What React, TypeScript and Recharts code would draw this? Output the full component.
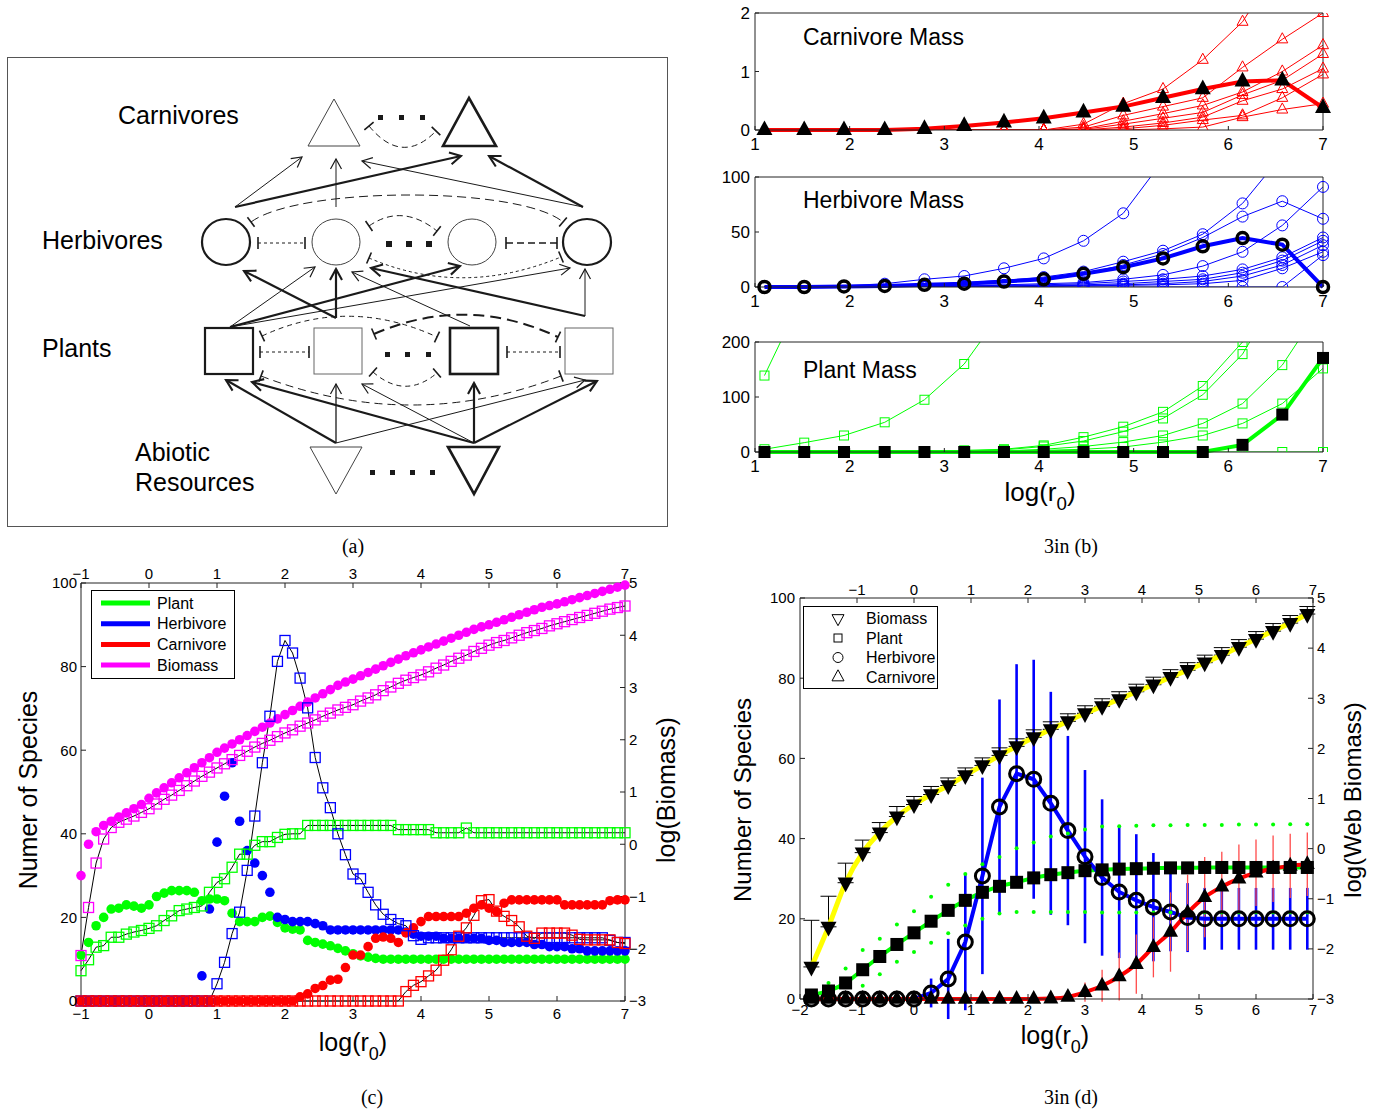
import React from "react";
import { ComposedChart, Line, XAxis, YAxis, ErrorBar } from "recharts";

const SANS = "'Liberation Sans', Arial, Helvetica, sans-serif";
const SERIF = "'Liberation Serif', 'Times New Roman', serif";
const AX = "#222";
const RED = "#ff0000";
const BLUE = "#0000ff";
const GREEN = "#00ff00";
const MAGENTA = "#ff00ff";
const YELLOW = "#ffff00";

// ---------- panel (b): mass of each run vs log(r0)
const xB = [1.1, 1.52, 1.94, 2.37, 2.79, 3.21, 3.63, 4.05, 4.47, 4.89, 5.31, 5.73, 6.15, 6.57, 7.0];
const xBTicks = [1, 2, 3, 4, 5, 6, 7];

const carnRun1 = [0, 0, 0, 0, 0, 0, 0, 0, 0.1, 0.45, 0.7, 1.2, 1.85, 2.9, 4.5];
const carnRun2 = [0, 0, 0, 0, 0, 0, 0, 0, 0.05, 0.25, 0.4, 0.55, 1.07, 1.55, 2.0];
const carnRun3 = [0, 0, 0, 0, 0, 0, 0, 0, 0.02, 0.15, 0.28, 0.42, 0.65, 1.0, 1.45];
const carnRun4 = [0, 0, 0, 0, 0, 0, 0, 0, 0.01, 0.1, 0.2, 0.3, 0.6, 0.85, 1.3];
const carnRun5 = [0, 0, 0, 0, 0, 0, 0, 0, 0, 0.05, 0.12, 0.22, 0.5, 0.7, 1.05];
const carnRun6 = [0, 0, 0, 0, 0, 0, 0, 0, 0, 0.02, 0.08, 0.17, 0.25, 0.55, 0.95];
const carnRun7 = [0, 0, 0, 0, 0, 0, 0, 0, 0, 0, 0.02, 0.05, 0.22, 0.35, 0.45];
const carnMean = [0, 0, 0, 0, 0.02, 0.07, 0.13, 0.2, 0.3, 0.4, 0.55, 0.7, 0.83, 0.85, 0.38];

const herbRun1 = [0, 0.5, 1, 3, 7, 10, 17, 26, 42, 67, 115, 180, 260, 350, 450];
const herbRun2 = [0, 0, 0.5, 1, 2, 4, 6, 9, 14, 23, 33, 48, 76, 120, 170];
const herbRun3 = [0, 0, 0.5, 1, 1.5, 3, 5, 8, 12, 20, 30, 45, 64, 78, 62];
const herbRun4 = [0, 0, 0, 0.5, 1, 1.5, 2, 3, 4, 7, 11, 19, 32, 56, 91];
const herbRun5 = [0, 0, 0, 0, 0.5, 1, 1.5, 2, 3, 5, 7, 10, 16, 27, 45];
const herbRun6 = [0, 0, 0, 0, 0, 0.5, 1, 1.5, 2, 3, 5, 7, 13, 24, 42];
const herbRun7 = [0, 0, 0, 0, 0, 0, 0.5, 1, 1.5, 2, 3, 5, 10, 20, 38];
const herbRun8 = [0, 0, 0, 0, 0, 0, 0, 0.5, 1, 1.5, 2, 3, 6, 17, 32];
const herbRun9 = [0, 0, 0, 0, 0, 0, 0, 0, 0, 0, 0, 0, 0, 0, 29];
const herbMean = [0, 0, 0.5, 1, 2, 3, 5, 7, 12, 18, 26, 37, 44.5, 38.5, 0];

const plantRun1 = [139, 290, 560, 1000, 1800, 3000, 4800, 7000, 9500, 12000, 15000, 18000, 21000, 24000, 27000];
const plantRun2 = [5, 17, 30, 54, 95, 160, 260, 420, 650, 1000, 1500, 2200, 3200, 4500, 6000];
const plantRun3 = [0, 0, 0, 0, 1, 3, 5, 12, 27, 46, 73, 120, 200, 330, 540];
const plantRun4 = [0, 0, 0, 0, 1, 2, 4, 10, 20, 37, 61, 104, 178, 300, 490];
const plantRun5 = [0, 0, 0, 0, 0, 1, 2, 5, 10, 18, 30, 52, 88, 158, 270];
const plantRun6 = [0, 0, 0, 0, 0, 0, 1, 3, 5, 9, 18, 30, 52, 88, 152];
const plantRun7 = [0, 0, 0, 0, 0, 0, 0, 0, 0, 0, 0, 0, 0, 0, 0];
const plantMean = [0, 0, 0, 0, 0, 0, 0, 0, 0, 0, 0, 0, 13, 68, 171];

// ---------- panel (c): species counts (circles, left) and log biomass (squares, right)
const xC = [
  -1, -0.889, -0.778, -0.667, -0.556, -0.444, -0.333, -0.222, -0.111,
  0, 0.111, 0.222, 0.333, 0.444, 0.556, 0.667, 0.778, 0.889,
  1, 1.111, 1.222, 1.333, 1.444, 1.556, 1.667, 1.778, 1.889,
  2, 2.111, 2.222, 2.333, 2.444, 2.556, 2.667, 2.778, 2.889,
  3, 3.111, 3.222, 3.333, 3.444, 3.556, 3.667, 3.778, 3.889,
  4, 4.111, 4.222, 4.333, 4.444, 4.556, 4.667, 4.778, 4.889,
  5, 5.111, 5.222, 5.333, 5.444, 5.556, 5.667, 5.778, 5.889,
  6, 6.111, 6.222, 6.333, 6.444, 6.556, 6.667, 6.778, 6.889,
  7,
];
const xCTicks = [-1, 0, 1, 2, 3, 4, 5, 6, 7];

const plantCount = [
  11, 14, 18, 20, 22, 22.2, 23, 22.7, 22.2,
  23, 25, 25.8, 26.4, 26.4, 26.4, 26, 24, 24.4,
  24.4, 24, 21, 19, 19, 19, 20, 20.3, 18.8,
  17.5, 17.2, 17, 14.5, 14, 13.6, 13.2, 12.6, 12,
  11.3, 10.8, 10.5, 10.2, 10, 10, 10, 10, 10,
  10, 10, 10, 10, 10, 10, 10, 10, 10,
  10, 10, 10, 10, 10, 10, 10, 10, 10,
  10, 10, 10, 10, 10, 10, 10, 10, 10,
  10,
];
const herbCount = [
  0, 0, 0, 0, 0, 0, 0, 0, 0,
  0, 0, 0, 0, 0, 0, 0, 6, 22,
  38, 49, 57, 43, 36, 33, 30, 26, 20,
  19.5, 19, 19, 19, 18.5, 18, 17, 17, 17,
  17, 17, 17, 17, 17, 17, 17, 16.5, 16,
  15.5, 15.5, 15.5, 15, 15, 15, 15, 15, 15,
  14.5, 14.5, 14, 14, 14, 14, 13.5, 13.5, 13,
  13, 13, 12.5, 12.5, 12, 12, 12, 12, 12,
  12,
];
const carnCount = [
  0, 0, 0, 0, 0, 0, 0, 0, 0,
  0, 0, 0, 0, 0, 0, 0, 0, 0,
  0, 0, 0, 0, 0, 0, 0, 0, 0,
  0, 0, 1, 1.7, 3, 3.7, 5, 5.2, 8,
  11, 11, 13, 15, 15.3, 15, 14, 16.3, 17.5,
  19, 20.2, 20.2, 20.2, 20.2, 20.2, 21, 22.2, 23,
  22.2, 21.4, 23.4, 24.2, 24.2, 24.2, 24.2, 24.2, 24.2,
  24.2, 23, 23, 23, 23, 23, 23, 24, 24.2,
  24.2,
];
const bioCount = [
  30, 37.5, 40.5, 42, 43, 44, 45, 46, 47,
  48.5, 49.8, 51, 52.2, 53.4, 54.6, 55.8, 57, 58.2,
  59.5, 60.5, 61.5, 62.5, 63.5, 64.5, 65.5, 66.5, 67.5,
  68.5, 69.5, 70.5, 71.5, 72.5, 73.5, 74.5, 75.5, 76.3,
  77, 77.8, 78.6, 79.4, 80.2, 81, 81.8, 82.6, 83.3,
  84, 84.7, 85.4, 86.1, 86.8, 87.5, 88.2, 88.9, 89.5,
  90, 90.6, 91.2, 91.8, 92.4, 93, 93.6, 94.2, 94.6,
  95, 95.5, 96, 96.5, 97, 97.5, 98, 98.5, 99,
  99.5,
];
const plantLogMass = [
  -2.42, -2.21, -1.97, -1.94, -1.78, -1.78, -1.72, -1.68, -1.65,
  -1.61, -1.56, -1.46, -1.37, -1.27, -1.24, -1.21, -1.18, -0.92,
  -0.73, -0.66, -0.44, -0.19, -0.19, -0.02, 0.05, 0.05, 0.13,
  0.19, 0.2, 0.2, 0.36, 0.36, 0.36, 0.36, 0.36, 0.36,
  0.36, 0.36, 0.36, 0.36, 0.36, 0.36, 0.28, 0.28, 0.28,
  0.28, 0.28, 0.22, 0.22, 0.22, 0.22, 0.31, 0.22, 0.22,
  0.22, 0.22, 0.22, 0.22, 0.22, 0.22, 0.22, 0.22, 0.22,
  0.22, 0.22, 0.22, 0.22, 0.22, 0.22, 0.22, 0.22, 0.22,
  0.22,
];
const herbLogMass = [
  -3, -3, -3, -3, -3, -3, -3, -3, -3,
  -3, -3, -3, -3, -3, -3, -3, -3, -3,
  -2.67, -2.26, -1.71, -1.3, -0.5, 0.54, 1.56, 2.45, 3.5,
  3.9, 3.66, 3.18, 2.61, 1.66, 1.08, 0.7, 0.2, -0.2,
  -0.57, -0.66, -0.92, -1.16, -1.34, -1.44, -1.52, -1.56, -1.75,
  -1.82, -1.79, -1.79, -1.79, -1.79, -1.79, -1.79, -1.79, -1.79,
  -1.79, -1.79, -1.79, -1.79, -1.79, -1.79, -1.79, -1.79, -1.79,
  -1.79, -1.79, -1.79, -1.79, -1.79, -1.79, -1.79, -1.84, -1.88,
  -1.88,
];
const carnLogMass = [
  -3, -3, -3, -3, -3, -3, -3, -3, -3,
  -3, -3, -3, -3, -3, -3, -3, -3, -3,
  -3, -3, -3, -3, -3, -3, -3, -3, -3,
  -3, -3, -3, -3, -3, -3, -3, -3, -3,
  -3, -3, -3, -3, -3, -3, -3, -2.82, -2.7,
  -2.63, -2.52, -2.41, -2.22, -2.02, -1.76, -1.6, -1.36, -1.08,
  -1.06, -1.28, -1.38, -1.46, -1.58, -1.76, -1.8, -1.7, -1.7,
  -1.7, -1.7, -1.74, -1.82, -1.83, -1.83, -1.83, -1.83, -1.88,
  -1.9,
];
const bioLogMass = [
  -2.13, -1.21, -0.36, 0.1, 0.32, 0.42, 0.48, 0.54, 0.61,
  0.68, 0.77, 0.86, 0.94, 1.03, 1.12, 1.21, 1.3, 1.38,
  1.46, 1.54, 1.62, 1.7, 1.78, 1.86, 1.93, 1.99, 2.06,
  2.13, 2.19, 2.26, 2.32, 2.38, 2.45, 2.51, 2.57, 2.62,
  2.67, 2.74, 2.8, 2.86, 2.94, 3.01, 3.08, 3.14, 3.19,
  3.24, 3.3, 3.37, 3.43, 3.5, 3.56, 3.62, 3.69, 3.75,
  3.81, 3.86, 3.9, 3.95, 4.0, 4.05, 4.09, 4.13, 4.18,
  4.22, 4.26, 4.3, 4.34, 4.38, 4.42, 4.46, 4.5, 4.53,
  4.56,
];

// ---------- panel (d): ensemble averages with error bars
const xD = [-1.8, -1.5, -1.2, -0.9, -0.6, -0.3, 0, 0.3, 0.6, 0.9, 1.2, 1.5, 1.8, 2.1, 2.4, 2.7, 3, 3.3, 3.6, 3.9, 4.2, 4.5, 4.8, 5.1, 5.4, 5.7, 6, 6.3, 6.6, 6.9];
const xDTicksBottom = [-2, -1, 0, 1, 2, 3, 4, 5, 6, 7];
const xDTicksTop = [-1, 0, 1, 2, 3, 4, 5, 6, 7];

const webBio = [-2.36, -1.56, -0.68, -0.08, 0.32, 0.64, 0.88, 1.08, 1.26, 1.46, 1.66, 1.86, 2.04, 2.22, 2.38, 2.54, 2.7, 2.84, 2.98, 3.13, 3.27, 3.42, 3.56, 3.71, 3.86, 4.02, 4.18, 4.34, 4.5, 4.68];
const webBioErr = [0.93, 0.61, 0.39, 0.25, 0.2, 0.2, 0.16, 0.16, 0.15, 0.15, 0.15, 0.15, 0.15, 0.15, 0.15, 0.15, 0.15, 0.15, 0.15, 0.15, 0.15, 0.15, 0.15, 0.15, 0.15, 0.15, 0.15, 0.15, 0.15, 0.15];
const plantSp = [1, 2, 4, 7.3, 10.6, 13.6, 16.5, 19.4, 22.1, 24.6, 26.6, 28.1, 29.1, 30.2, 31, 31.5, 32, 32.2, 32.4, 32.5, 32.6, 32.7, 32.7, 32.8, 32.8, 32.8, 32.8, 32.8, 32.8, 32.8];
const plantSpHi = [2, 4, 7.6, 12.2, 15, 18.6, 21.9, 25.5, 28.5, 31.2, 33.6, 35.4, 37.6, 39, 40.5, 41.3, 42.3, 43, 43.1, 43.2, 43.3, 43.3, 43.4, 43.4, 43.4, 43.5, 43.5, 43.5, 43.6, 43.6];
const plantSpLo = [0, 0.2, 1.2, 3.3, 6.2, 9.3, 11.7, 14, 16.4, 18.3, 20, 21.3, 21.7, 21.7, 21.7, 21.7, 21.7, 21.6, 21.6, 21.6, 21.6, 21.6, 21.6, 21.6, 21.6, 21.6, 21.6, 21.6, 21.6, 21.6];
const herbSp = [0, 0, 0, 0, 0, 0, 0, 1.5, 5, 14.2, 30.7, 47.9, 56.2, 54.8, 48.8, 42, 35.5, 30.3, 26.7, 24.6, 22.9, 21.7, 20.3, 20, 20, 20, 20, 20, 20, 20];
const herbSpErr = [0, 0, 0, 0, 0, 0, 0, 3.6, 10, 17, 24.5, 26.8, 27.3, 29.8, 27.8, 23.6, 21.6, 19.5, 16.5, 16.5, 13.5, 9.8, 8.6, 7.7, 7.7, 7.7, 7.7, 7.7, 7.7, 7.7];
const carnSp = [0, 0, 0, 0, 0, 0, 0, 0, 0, 0, 0, 0, 0, 0, 0.1, 0.5, 1.7, 3.3, 5.6, 8.7, 12.9, 16.7, 21.5, 25.4, 28, 30, 31.5, 32.5, 33.2, 33.6];
const carnSpErr = [0, 0, 0, 0, 0, 0, 0, 0, 0, 0, 0, 0, 0, 0, 0, 0.5, 2.4, 4, 6, 7.4, 7.5, 9.9, 9.5, 10, 8.7, 8.5, 8.3, 8.3, 8, 7.9];

const speciesTicks = [0, 20, 40, 60, 80, 100];
const logTicks = [-3, -2, -1, 0, 1, 2, 3, 4, 5];
const legendC = [
  { name: "Plant", color: GREEN },
  { name: "Herbivore", color: BLUE },
  { name: "Carnivore", color: RED },
  { name: "Biomass", color: MAGENTA },
];
const legendD = ["Biomass", "Plant", "Herbivore", "Carnivore"];

// ---------- helpers
const minus = (v: number) => String(v).replace("-", "\u2212");
const tickFont = (size: number) => ({ fontSize: size, fill: "#000", fontFamily: SANS });
const axisLine = { stroke: AX, strokeWidth: 1 };
const tickLine = { stroke: AX, strokeWidth: 1 };
const triUp = (x: number, y: number, s: number) =>
  `${x},${y - s * 0.6} ${x - s / 2},${y + s * 0.32} ${x + s / 2},${y + s * 0.32}`;
const triDown = (x: number, y: number, s: number) =>
  `${x},${y + s * 0.6} ${x - s / 2},${y - s * 0.32} ${x + s / 2},${y - s * 0.32}`;

type Draw = (x: number, y: number) => React.ReactNode;
const dots = (draw: Draw) => (p: any) => (
  <g key={`d${p.index}`}>{p.cx == null || p.cy == null || p.value == null ? null : draw(p.cx, p.cy)}</g>
);

// ---------- panel (b)
function MassPanel(props: {
  top: number;
  height: number;
  plotTop: number;
  plotBottom: number;
  runs: number[][];
  mean: number[];
  color: string;
  kind: "tri" | "circ" | "sq";
  yMax: number;
  yTicks: number[];
}) {
  const { top, height, plotTop, plotBottom, runs, mean, color, kind, yMax, yTicks } = props;
  const data = xB.map((x, i) => {
    const row: Record<string, number> = { x, mean: mean[i] };
    runs.forEach((run, j) => {
      row[`run${j}`] = run[i];
    });
    return row;
  });
  const open: Draw =
    kind === "tri"
      ? (x, y) => <polygon points={triUp(x, y, 11)} fill="none" stroke={color} strokeWidth={1} />
      : kind === "circ"
      ? (x, y) => <circle cx={x} cy={y} r={5.5} fill="none" stroke={color} strokeWidth={1} />
      : (x, y) => <rect x={x - 4.5} y={y - 4.5} width={9} height={9} fill="none" stroke={color} strokeWidth={1} />;
  const solid: Draw =
    kind === "tri"
      ? (x, y) => <polygon points={triUp(x, y, 16)} fill="#000" />
      : kind === "circ"
      ? (x, y) => <circle cx={x} cy={y} r={5.5} fill="none" stroke="#000" strokeWidth={3.5} />
      : (x, y) => <rect x={x - 6} y={y - 6} width={12} height={12} fill="#000" />;
  return (
    <div style={{ position: "absolute", left: 700, top, width: 680, height }}>
      <ComposedChart
        width={680}
        height={height}
        data={data}
        margin={{ top: plotTop - top - 1, right: 56, bottom: top + height - plotBottom - 25, left: 15 }}
      >
        <XAxis xAxisId="b" dataKey="x" type="number" domain={[1, 7]} ticks={xBTicks} height={25}
          axisLine={axisLine} tickLine={tickLine} tickSize={-4} tickMargin={12} tick={tickFont(17)} />
        <XAxis xAxisId="t" orientation="top" dataKey="x" type="number" domain={[1, 7]} ticks={xBTicks} height={1}
          axisLine={axisLine} tickLine={tickLine} tickSize={-4} tick={false} />
        <YAxis yAxisId="a" type="number" domain={[0, yMax]} ticks={yTicks} allowDataOverflow width={40}
          axisLine={axisLine} tickLine={tickLine} tickSize={-4} tickMargin={9} tick={tickFont(17)} />
        <YAxis yAxisId="zf" type="number" domain={[0, yMax]} width={0} hide />
        <YAxis yAxisId="r" orientation="right" type="number" domain={[0, yMax]} ticks={yTicks} width={1}
          axisLine={axisLine} tickLine={tickLine} tickSize={-4} tick={false} />
        {runs.map((_, j) => (
          <Line key={j} xAxisId="b" yAxisId="a" dataKey={`run${j}`} stroke={color} strokeWidth={1}
            dot={dots(open)} activeDot={false} isAnimationActive={false} />
        ))}
        <Line xAxisId="b" yAxisId="zf" dataKey="mean" stroke="none" dot={dots(solid)} activeDot={false}
          isAnimationActive={false} />
        <Line xAxisId="b" yAxisId="zf" dataKey="mean" stroke={color} strokeWidth={4} dot={false} activeDot={false}
          isAnimationActive={false} />
      </ComposedChart>
    </div>
  );
}

// ---------- panel (c)
function SpeciesChart() {
  const data = xC.map((x, i) => ({
    x,
    pc: plantCount[i],
    hc: herbCount[i],
    cc: carnCount[i],
    bc: bioCount[i],
    pb: plantLogMass[i],
    hb: herbLogMass[i],
    cb: carnLogMass[i],
    bb: bioLogMass[i],
  }));
  const disc = (fill: string): Draw => (x, y) => <circle cx={x} cy={y} r={4.8} fill={fill} />;
  const box = (stroke: string): Draw => (x, y) => (
    <rect x={x - 5} y={y - 5} width={10} height={10} fill="none" stroke={stroke} strokeWidth={1.3} />
  );
  const circles: [string, string][] = [["pc", GREEN], ["hc", BLUE], ["cc", RED], ["bc", MAGENTA]];
  const squares: [string, string][] = [["pb", GREEN], ["hb", BLUE], ["cb", RED], ["bb", MAGENTA]];
  return (
    <div style={{ position: "absolute", left: 0, top: 560, width: 700, height: 490 }}>
      <ComposedChart width={700} height={490} data={data} margin={{ top: 1, right: 35, bottom: 24, left: 31 }}>
        <XAxis xAxisId="b" dataKey="x" type="number" domain={[-1, 7]} ticks={xCTicks} height={25}
          axisLine={axisLine} tickLine={tickLine} tickSize={-5} tickMargin={12} tick={tickFont(15)} tickFormatter={minus} />
        <XAxis xAxisId="t" orientation="top" dataKey="x" type="number" domain={[-1, 7]} ticks={xCTicks} height={22}
          axisLine={axisLine} tickLine={tickLine} tickSize={-5} tickMargin={9} tick={tickFont(15)} tickFormatter={minus} />
        <YAxis yAxisId="L" type="number" domain={[0, 100]} ticks={speciesTicks} width={50}
          axisLine={axisLine} tickLine={tickLine} tickSize={-5} tickMargin={9} tick={tickFont(15)} />
        <YAxis yAxisId="R" orientation="right" type="number" domain={[-3, 5]} ticks={logTicks} width={40}
          axisLine={axisLine} tickLine={tickLine} tickSize={-5} tickMargin={9} tick={tickFont(15)} tickFormatter={minus} />
        {circles.map(([k, c]) => (
          <Line key={k} xAxisId="b" yAxisId="L" dataKey={k} stroke="none" dot={dots(disc(c))} activeDot={false}
            isAnimationActive={false} />
        ))}
        {squares.map(([k, c]) => (
          <React.Fragment key={k}>
            <Line xAxisId="b" yAxisId="R" dataKey={k} stroke="none" dot={dots(box(c))} activeDot={false}
              isAnimationActive={false} />
            <Line xAxisId="b" yAxisId="R" dataKey={k} stroke="#000" strokeWidth={1} dot={false} activeDot={false}
              isAnimationActive={false} />
          </React.Fragment>
        ))}
      </ComposedChart>
    </div>
  );
}

// ---------- panel (d)
function AverageChart() {
  const data = xD.map((x, i) => ({
    x,
    bio: webBio[i],
    bioErr: [0, webBioErr[i]],
    plant: plantSp[i],
    pHi: plantSpHi[i],
    pLo: plantSpLo[i],
    herb: herbSp[i],
    herbErr: herbSpErr[i],
    carn: carnSp[i],
    carnErr: carnSpErr[i],
  }));
  const greenDot: Draw = (x, y) => <circle cx={x} cy={y} r={2} fill={GREEN} />;
  return (
    <div style={{ position: "absolute", left: 700, top: 580, width: 680, height: 480 }}>
      <ComposedChart width={680} height={480} data={data} margin={{ top: 0, right: 27, bottom: 36, left: 50 }}>
        <XAxis xAxisId="b" dataKey="x" type="number" domain={[-2, 7]} ticks={xDTicksBottom} height={25}
          axisLine={axisLine} tickLine={tickLine} tickSize={-5} tickMargin={10} tick={tickFont(15)} tickFormatter={minus} />
        <XAxis xAxisId="t" orientation="top" dataKey="x" type="number" domain={[-2, 7]} ticks={xDTicksTop} height={18}
          axisLine={axisLine} tickLine={tickLine} tickSize={-5} tickMargin={8} tick={tickFont(15)} tickFormatter={minus} />
        <YAxis yAxisId="L" type="number" domain={[0, 100]} ticks={speciesTicks} allowDataOverflow width={50}
          axisLine={axisLine} tickLine={tickLine} tickSize={-5} tickMargin={10} tick={tickFont(15)} />
        <YAxis yAxisId="Lf" type="number" domain={[0, 100]} width={0} hide />
        <YAxis yAxisId="R" orientation="right" type="number" domain={[-3, 5]} ticks={logTicks} width={40}
          axisLine={axisLine} tickLine={tickLine} tickSize={-5} tickMargin={9} tick={tickFont(15)} tickFormatter={minus} />

        <Line xAxisId="b" yAxisId="L" dataKey="herb" stroke="none" dot={false} activeDot={false} isAnimationActive={false}>
          <ErrorBar dataKey="herbErr" width={0} strokeWidth={2.6} stroke={BLUE} direction="y" />
        </Line>
        <Line xAxisId="b" yAxisId="L" dataKey="carn" stroke="none" dot={false} activeDot={false} isAnimationActive={false}>
          <ErrorBar dataKey="carnErr" width={0} strokeWidth={1.3} stroke="#ff4a4a" direction="y" />
        </Line>
        <Line xAxisId="b" yAxisId="Lf" dataKey="pHi" stroke="none" dot={dots(greenDot)} activeDot={false}
          isAnimationActive={false} />
        <Line xAxisId="b" yAxisId="Lf" dataKey="pLo" stroke="none" dot={dots(greenDot)} activeDot={false}
          isAnimationActive={false} />
        <Line xAxisId="b" yAxisId="R" dataKey="bio" stroke="none" dot={false} activeDot={false} isAnimationActive={false}>
          <ErrorBar dataKey="bioErr" width={8} strokeWidth={1} stroke="#000" direction="y" />
        </Line>

        <Line xAxisId="b" yAxisId="Lf" dataKey="plant" stroke="none" activeDot={false} isAnimationActive={false}
          dot={dots((x, y) => <rect x={x - 6.5} y={y - 6.5} width={13} height={13} fill="#000" />)} />
        <Line xAxisId="b" yAxisId="Lf" dataKey="herb" stroke="none" activeDot={false} isAnimationActive={false}
          dot={dots((x, y) => <circle cx={x} cy={y} r={7} fill="none" stroke="#000" strokeWidth={3} />)} />
        <Line xAxisId="b" yAxisId="Lf" dataKey="carn" stroke="none" activeDot={false} isAnimationActive={false}
          dot={dots((x, y) => <polygon points={triUp(x, y, 15)} fill="#000" />)} />
        <Line xAxisId="b" yAxisId="R" dataKey="bio" stroke="none" activeDot={false} isAnimationActive={false}
          dot={dots((x, y) => <polygon points={triDown(x, y, 16)} fill="#000" />)} />

        <Line xAxisId="b" yAxisId="Lf" type="monotone" dataKey="plant" stroke={GREEN} strokeWidth={4} dot={false}
          activeDot={false} isAnimationActive={false} />
        <Line xAxisId="b" yAxisId="Lf" dataKey="herb" stroke={BLUE} strokeWidth={4} dot={false} activeDot={false}
          isAnimationActive={false} />
        <Line xAxisId="b" yAxisId="Lf" type="monotone" dataKey="carn" stroke={RED} strokeWidth={4} dot={false}
          activeDot={false} isAnimationActive={false} />
        <Line xAxisId="b" yAxisId="R" type="monotone" dataKey="bio" stroke={YELLOW} strokeWidth={5} dot={false}
          activeDot={false} isAnimationActive={false} />
      </ComposedChart>
    </div>
  );
}

// ---------- panel (a): food web sketch
const webArrows: [number, number, number, number, number][] = [
  [235, 207, 302, 157, 1], [235, 207, 461, 156, 2.2], [336, 207, 336, 159, 1], [583, 207, 362, 161, 1], [583, 207, 489, 156, 2.2],
  [230, 327, 315, 267, 1], [230, 327, 460, 266, 2.2], [336, 318, 244, 271, 2.2], [336, 318, 336, 269, 2.2],
  [470, 326, 352, 272, 1], [585, 316, 371, 268, 2.2], [585, 316, 585, 269, 1], [230, 327, 570, 268, 1],
  [336, 443, 226, 380, 2.2], [336, 443, 336, 384, 1.3], [336, 443, 585, 380, 1], [474, 443, 252, 382, 2.2],
  [474, 443, 362, 384, 1], [474, 443, 474, 383, 2.2], [474, 443, 597, 381, 2.2],
];
const webLinks: [string, string, number][] = [
  ["M369,126 Q402,166 436,131", "6,4", 1],
  ["M251,222 C300,186 520,186 563,222", "9,5", 1],
  ["M369,226 Q402,203 437,231", "6,4", 1],
  ["M369,258 Q462,298 561,257", "3,3", 1],
  ["M258,243 L305,243", "3,3", 1],
  ["M506,243 L557,243", "7,4", 1.3],
  ["M262,336 Q348,296 437,337", "5,4", 1],
  ["M374,334 Q466,294 558,337", "11,6", 2],
  ["M261,376 Q412,434 561,376", "8,5", 1],
  ["M373,372 Q405,400 437,373", "5,4", 1],
  ["M260,352 L309,352", "3,3", 1],
  ["M507,352 L560,352", "3,3", 1],
];

function FoodWeb() {
  const k = "#1a1a1a";
  return (
    <svg width={700} height={560} style={{ position: "absolute", left: 0, top: 0 }} fontFamily={SANS}>
      <defs>
        <marker id="ahThin" viewBox="-12 -7 14 14" markerWidth={14} markerHeight={14} refX={0} refY={0} orient="auto"
          markerUnits="userSpaceOnUse">
          <path d="M-10,-5.5 L0,0 L-10,5.5" fill="none" stroke={k} strokeWidth={1.2} />
        </marker>
        <marker id="ahThick" viewBox="-13 -8 15 16" markerWidth={15} markerHeight={16} refX={0} refY={0} orient="auto"
          markerUnits="userSpaceOnUse">
          <path d="M-11,-6 L0,0 L-11,6" fill="none" stroke={k} strokeWidth={2.1} />
        </marker>
        <marker id="tbar" viewBox="-2 -8 4 16" markerWidth={4} markerHeight={16} refX={0} refY={0} orient="auto"
          markerUnits="userSpaceOnUse">
          <path d="M0,-6 L0,6" stroke={k} strokeWidth={1.6} />
        </marker>
      </defs>
      <rect x={7.5} y={57.5} width={660} height={469} fill="none" stroke="#555" />
      <text x={118} y={124} fontSize={25}>Carnivores</text>
      <text x={42} y={249} fontSize={25}>Herbivores</text>
      <text x={42} y={357} fontSize={25}>Plants</text>
      <text x={135} y={461} fontSize={25}>Abiotic</text>
      <text x={135} y={491} fontSize={25}>Resources</text>

      {webArrows.map(([x1, y1, x2, y2, w], i) => (
        <line key={`a${i}`} x1={x1} y1={y1} x2={x2} y2={y2} stroke={k} strokeWidth={w}
          markerEnd={w > 1.5 ? "url(#ahThick)" : "url(#ahThin)"} />
      ))}
      {webLinks.map(([d, dash, w], i) => (
        <path key={`l${i}`} d={d} fill="none" stroke={k} strokeWidth={w} strokeDasharray={dash}
          markerStart="url(#tbar)" markerEnd="url(#tbar)" />
      ))}

      <polygon points="308,146 360,146 334,99" fill="#fff" stroke="#444" strokeWidth={1} />
      <polygon points="443,146 496,146 469,98" fill="#fff" stroke={k} strokeWidth={2.6} />
      <ellipse cx={226} cy={242} rx={24} ry={23} fill="none" stroke={k} strokeWidth={2.2} />
      <ellipse cx={336} cy={242} rx={24} ry={23} fill="none" stroke="#444" strokeWidth={1} />
      <ellipse cx={472} cy={242} rx={24} ry={23} fill="none" stroke="#444" strokeWidth={1} />
      <ellipse cx={587} cy={242} rx={24} ry={23} fill="none" stroke={k} strokeWidth={2.2} />
      <rect x={205} y={328} width={48} height={46} fill="none" stroke={k} strokeWidth={2.2} />
      <rect x={314} y={328} width={48} height={46} fill="none" stroke="#666" strokeWidth={1} />
      <rect x={450} y={328} width={48} height={46} fill="none" stroke={k} strokeWidth={2.6} />
      <rect x={565} y={328} width={48} height={46} fill="none" stroke="#666" strokeWidth={1} />
      <polygon points="310,447 362,447 336,494" fill="#fff" stroke="#444" strokeWidth={1} />
      <polygon points="448,447 499,447 474,494" fill="#fff" stroke={k} strokeWidth={2.6} />

      {[378, 399, 420].map((x) => <rect key={`c${x}`} x={x} y={115} width={5} height={5} fill={k} />)}
      {[386, 406, 426].map((x) => <rect key={`h${x}`} x={x} y={241} width={6} height={6} fill={k} />)}
      {[385, 405, 426].map((x) => <rect key={`p${x}`} x={x} y={352} width={5} height={5} fill={k} />)}
      {[370, 390, 410, 430].map((x) => <rect key={`r${x}`} x={x} y={470} width={5} height={5} fill={k} />)}
    </svg>
  );
}

// ---------- labels, legends and captions
function LogR({ x, y, size }: { x: number; y: number; size: number }) {
  return (
    <text x={x} y={y} fontSize={size} textAnchor="middle">
      log(r<tspan dy={size * 0.35} fontSize={size * 0.72}>0</tspan>
      <tspan dy={-size * 0.35}>)</tspan>
    </text>
  );
}

function Overlay() {
  return (
    <svg width={1380} height={1110} style={{ position: "absolute", left: 0, top: 0, pointerEvents: "none" }}
      fontFamily={SANS}>
      <text x={803} y={45} fontSize={23}>Carnivore Mass</text>
      <text x={803} y={208} fontSize={23}>Herbivore Mass</text>
      <text x={803} y={378} fontSize={23}>Plant Mass</text>
      <LogR x={1040} y={501} size={26} />

      <text transform="translate(28,790) rotate(-90)" textAnchor="middle" dominantBaseline="central" fontSize={25}>
        Numer of Species
      </text>
      <text transform="translate(666,790) rotate(-90)" textAnchor="middle" dominantBaseline="central" fontSize={25}>
        log(Biomass)
      </text>
      <LogR x={353} y={1051} size={25} />
      <rect x={91.5} y={590.5} width={143} height={88} fill="#fff" stroke="#000" />
      {legendC.map((e, i) => (
        <g key={e.name}>
          <line x1={101} x2={150} y1={603 + i * 20.7} y2={603 + i * 20.7} stroke={e.color} strokeWidth={5} />
          <text x={157} y={608.5 + i * 20.7} fontSize={16}>{e.name}</text>
        </g>
      ))}

      <text transform="translate(742,800) rotate(-90)" textAnchor="middle" dominantBaseline="central" fontSize={24}>
        Number of Species
      </text>
      <text transform="translate(1352,800) rotate(-90)" textAnchor="middle" dominantBaseline="central" fontSize={24}>
        log(Web Biomass)
      </text>
      <LogR x={1055} y={1044} size={25} />
      <rect x={803.5} y={606.5} width={134} height={82} fill="#fff" stroke="#000" />
      {legendD.map((name, i) => {
        const y = 618.5 + i * 19.5;
        const mark =
          i === 0 ? <polygon points={triDown(838, y, 12)} fill="none" stroke="#000" /> :
          i === 1 ? <rect x={834} y={y - 4} width={8} height={8} fill="none" stroke="#000" /> :
          i === 2 ? <circle cx={838} cy={y} r={5} fill="none" stroke="#000" /> :
          <polygon points={triUp(838, y, 12)} fill="none" stroke="#000" />;
        return (
          <g key={name}>
            {mark}
            <text x={866} y={y + 5.5} fontSize={16}>{name}</text>
          </g>
        );
      })}

      <g fontFamily={SERIF} fontSize={20} textAnchor="middle">
        <text x={353} y={553}>(a)</text>
        <text x={1071} y={553}>3in (b)</text>
        <text x={372} y={1104}>(c)</text>
        <text x={1071} y={1104}>3in (d)</text>
      </g>
    </svg>
  );
}

export default function App() {
  return (
    <div style={{ position: "absolute", left: 0, top: 0, width: 1380, height: 1110, background: "#fff", fontFamily: SANS }}>
      <FoodWeb />
      <MassPanel top={0} height={160} plotTop={13} plotBottom={130} color={RED} kind="tri" yMax={2} yTicks={[0, 1, 2]}
        runs={[carnRun1, carnRun2, carnRun3, carnRun4, carnRun5, carnRun6, carnRun7]} mean={carnMean} />
      <MassPanel top={165} height={150} plotTop={177} plotBottom={287} color={BLUE} kind="circ" yMax={100}
        yTicks={[0, 50, 100]} mean={herbMean}
        runs={[herbRun1, herbRun2, herbRun3, herbRun4, herbRun5, herbRun6, herbRun7, herbRun8, herbRun9]} />
      <MassPanel top={330} height={150} plotTop={342} plotBottom={452} color={GREEN} kind="sq" yMax={200}
        yTicks={[0, 100, 200]} mean={plantMean}
        runs={[plantRun1, plantRun2, plantRun3, plantRun4, plantRun5, plantRun6, plantRun7]} />
      <SpeciesChart />
      <AverageChart />
      <Overlay />
    </div>
  );
}
